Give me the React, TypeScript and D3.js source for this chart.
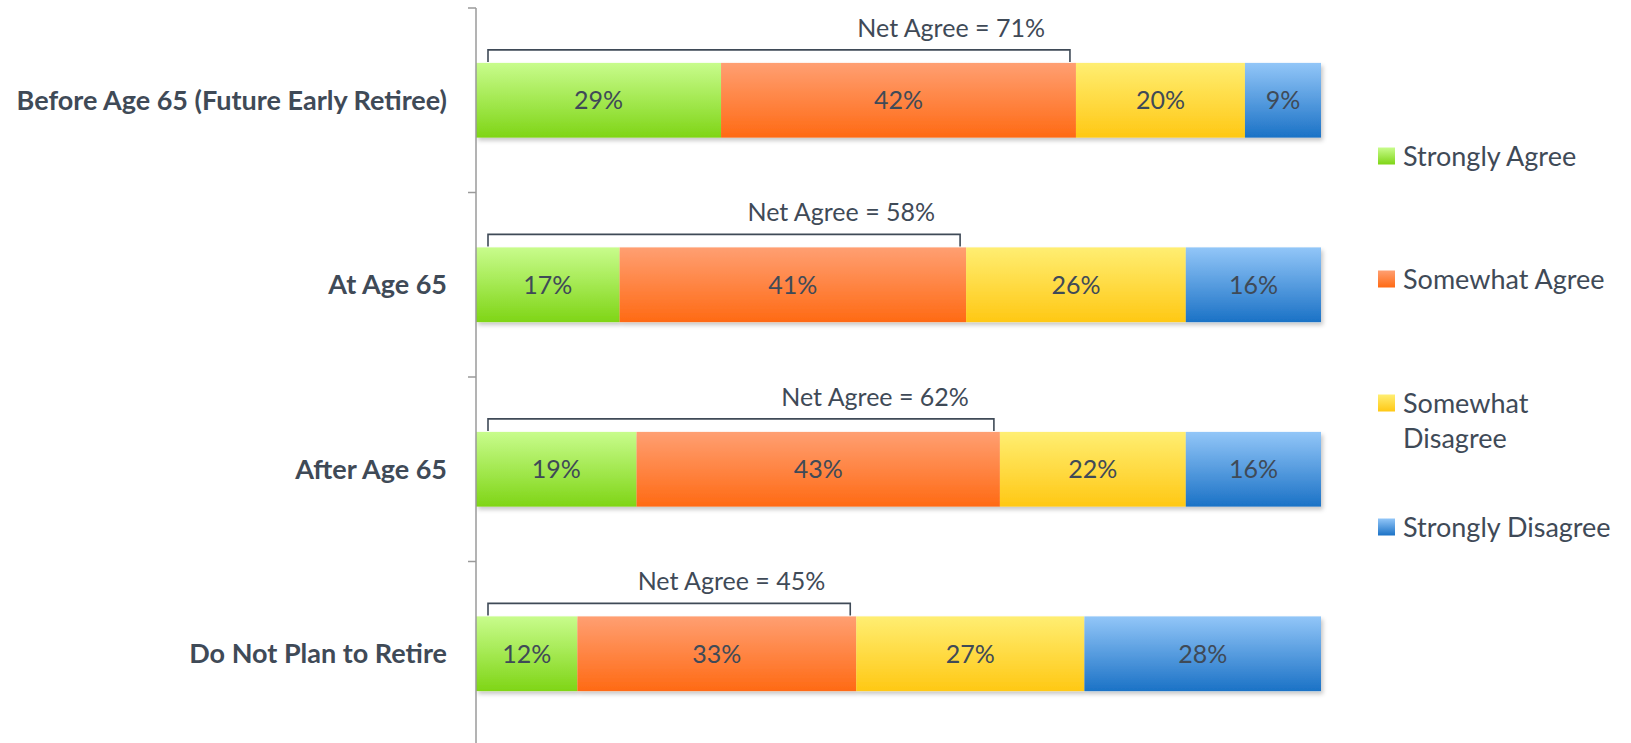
import React from 'react';
import * as d3 from 'd3';

const W = 1631;
const H = 743;

const categories = ['Before Age 65 (Future Early Retiree)', 'At Age 65', 'After Age 65', 'Do Not Plan to Retire'];
const stronglyAgree = [29, 17, 19, 12];
const somewhatAgree = [42, 41, 43, 33];
const somewhatDisagree = [20, 26, 22, 27];
const stronglyDisagree = [9, 16, 16, 28];
const netAgree = [71, 58, 62, 45];

const seriesNames = ['Strongly Agree', 'Somewhat Agree', 'Somewhat Disagree', 'Strongly Disagree'];
const seriesValues = [stronglyAgree, somewhatAgree, somewhatDisagree, stronglyDisagree];
// gradient top / bottom for each series
const gradStops = [
  ['#c8fc8c', '#7fd516'],
  ['#ff9f72', '#ff6a14'],
  ['#ffee72', '#ffc814'],
  ['#92c6f8', '#1b72c6'],
];

const TEXT = '#3f4a57';
const FONT = 'Lato, "Open Sans", sans-serif';

const App: React.FC = () => {
  const x = d3.scaleLinear().domain([0, 100]).range([476, 1321]);
  const y = d3.scaleBand<string>().domain(categories).range([8, 746]).paddingInner(0.595).paddingOuter(0.2975);
  const bh = y.bandwidth();

  // stacked layout
  const rows = categories.map((c, i) => {
    const obj: Record<string, number | string> = { cat: c };
    seriesNames.forEach((s, k) => (obj[s] = seriesValues[k][i]));
    return obj;
  });
  const stack = d3.stack<Record<string, number | string>>().keys(seriesNames).value((d, k) => d[k] as number);
  const layers = stack(rows);

  const step = y.step();
  const ticks = d3.range(categories.length + 1).map((i) => 8 + i * step);

  const legendY = [156, 279, 403, 527];

  return (
    <div style={{ position: 'absolute', left: 0, top: 0 }}>
      <svg width={W} height={H} style={{ display: 'block', fontFamily: FONT }}>
        <defs>
          {gradStops.map((g, k) => (
            <linearGradient key={k} id={`g${k}`} x1='0' y1='0' x2='0' y2='1'>
              <stop offset='0%' stopColor={g[0]} />
              <stop offset='100%' stopColor={g[1]} />
            </linearGradient>
          ))}
          <filter id='shadow' x='-5%' y='-20%' width='110%' height='150%'>
            <feDropShadow dx='2' dy='3' stdDeviation='2' floodColor='#000' floodOpacity='0.22' />
          </filter>
        </defs>

        {/* bars */}
        {categories.map((c, i) => (
          <g key={c} filter='url(#shadow)'>
            {layers.map((layer, k) => {
              const d = layer[i];
              return (
                <rect
                  key={k}
                  x={x(d[0])}
                  y={y(c)}
                  width={x(d[1]) - x(d[0])}
                  height={bh}
                  fill={`url(#g${k})`}
                />
              );
            })}
          </g>
        ))}

        {/* segment labels */}
        {categories.map((c, i) =>
          layers.map((layer, k) => {
            const d = layer[i];
            return (
              <text
                key={`${c}-${k}`}
                x={(x(d[0]) + x(d[1])) / 2}
                y={(y(c) ?? 0) + bh / 2}
                dy='0.36em'
                textAnchor='middle'
                fontSize={25}
                fill={TEXT}
              >
                {`${seriesValues[k][i]}%`}
              </text>
            );
          })
        )}

        {/* axis */}
        <line x1={476} x2={476} y1={8} y2={H} stroke='#9a9a9a' strokeWidth={1.5} />
        {ticks.map((t, i) => (
          <line key={i} x1={468} x2={476} y1={t} y2={t} stroke='#9a9a9a' strokeWidth={1.5} />
        ))}

        {/* category labels */}
        {categories.map((c) => (
          <text
            key={c}
            x={447}
            y={(y(c) ?? 0) + bh / 2}
            dy='0.36em'
            textAnchor='end'
            fontSize={27}
            fontWeight={700}
            fill={TEXT}
          >
            {c}
          </text>
        ))}

        {/* net agree brackets */}
        {categories.map((c, i) => {
          const top = y(c) ?? 0;
          const x0 = x(0) + 12;
          const x1 = x(netAgree[i]) - 6;
          const by = top - 13;
          return (
            <g key={c}>
              <path
                d={`M${x0},${top - 1}V${by}H${x1}V${top - 1}`}
                fill='none'
                stroke={TEXT}
                strokeWidth={1.6}
              />
              <text x={x1 - 25} y={by - 22} dy='0.36em' textAnchor='end' fontSize={25} fill={TEXT}>
                {`Net Agree = ${netAgree[i]}%`}
              </text>
            </g>
          );
        })}

        {/* legend */}
        {seriesNames.map((s, k) => {
          const lines = s === 'Somewhat Disagree' ? ['Somewhat', 'Disagree'] : [s];
          const ly = legendY[k];
          return (
            <g key={s}>
              <rect x={1378} y={ly - 8.5} width={17} height={17} fill={`url(#g${k})`} />
              {lines.map((l, j) => (
                <text key={j} x={1403} y={ly + j * 35} dy='0.36em' fontSize={27} fill={TEXT}>
                  {l}
                </text>
              ))}
            </g>
          );
        })}
      </svg>
    </div>
  );
};

export default App;
